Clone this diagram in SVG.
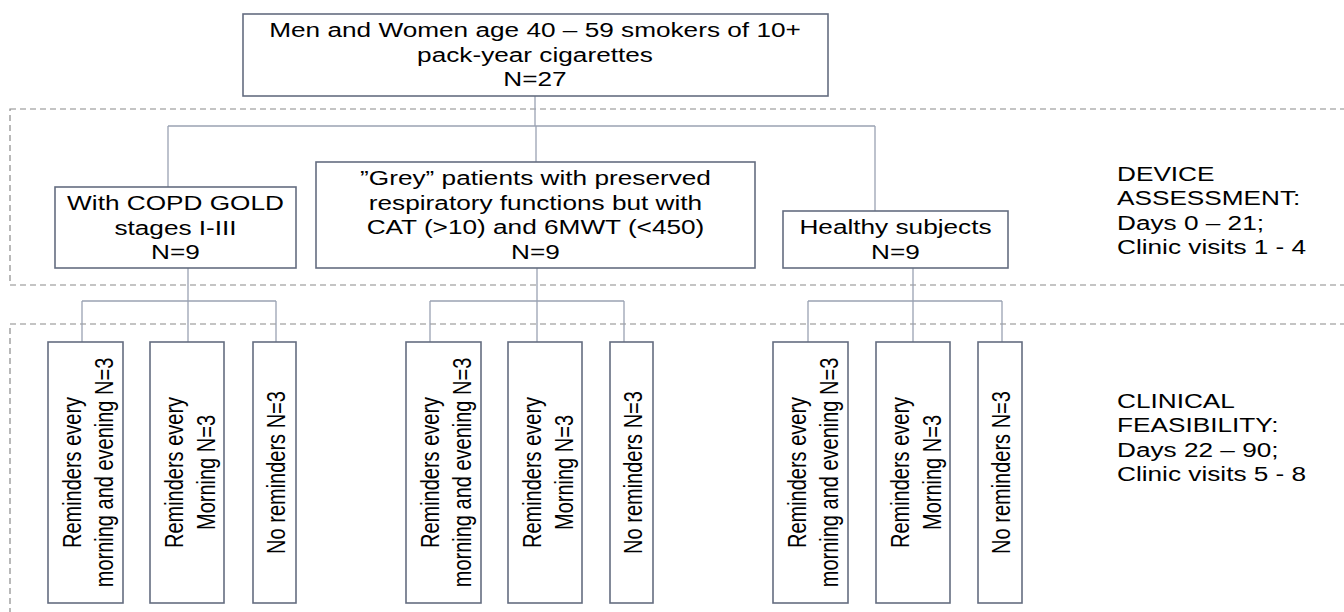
<svg xmlns="http://www.w3.org/2000/svg" width="1344" height="612" viewBox="0 0 1344 612">
<style>
.box{fill:#fff;stroke:#646d80;stroke-width:1.6}
.dash{fill:none;stroke:#8a8a8a;stroke-width:1.2;stroke-dasharray:6 4}
.con{fill:none;stroke:#9aa2b3;stroke-width:1.3}
text{font-family:"Liberation Sans",Arial,sans-serif;font-size:20px;fill:#000}
.c{text-anchor:middle}
</style>
<rect width="1344" height="612" fill="#fff"/>
<g id="regions">
<rect class="dash" x="10" y="109" width="1350" height="176"/>
<rect class="dash" x="10" y="324" width="1350" height="300"/>
</g>
<g id="connectors">
<path class="con" d="M535,96V126M168,126H875M168,126V187M536,126V162M875,126V211"/>
<path class="con" d="M188,268V342M82,301H276M82,301V342M276,301V342"/>
<path class="con" d="M537,268V342M430,301H624M430,301V342M624,301V342"/>
<path class="con" d="M913,268V342M808,301H1002M808,301V342M1002,301V342"/>
</g>
<g id="top">
<rect class="box" x="243" y="14" width="585" height="82"/>
<text class="c" transform="translate(535,37) scale(1.31,1)">Men and Women age 40 – 59 smokers of 10+</text>
<text class="c" transform="translate(535,62) scale(1.31,1)">pack-year cigarettes</text>
<text class="c" transform="translate(535,86) scale(1.31,1)">N=27</text>
</g>
<g id="copd">
<rect class="box" x="55" y="187" width="241" height="81"/>
<text class="c" transform="translate(175.5,210) scale(1.31,1)">With COPD GOLD</text>
<text class="c" transform="translate(175.5,235) scale(1.31,1)">stages I-III</text>
<text class="c" transform="translate(175.5,259) scale(1.31,1)">N=9</text>
</g>
<g id="grey">
<rect class="box" x="316" y="162" width="439" height="106"/>
<text class="c" transform="translate(535.5,185) scale(1.31,1)">”Grey” patients with preserved</text>
<text class="c" transform="translate(535.5,210) scale(1.31,1)">respiratory functions but with</text>
<text class="c" transform="translate(535.5,234) scale(1.31,1)">CAT (&gt;10) and 6MWT (&lt;450)</text>
<text class="c" transform="translate(535.5,259) scale(1.31,1)">N=9</text>
</g>
<g id="healthy">
<rect class="box" x="783" y="211" width="225" height="57"/>
<text class="c" transform="translate(895.5,234) scale(1.31,1)">Healthy subjects</text>
<text class="c" transform="translate(895.5,259) scale(1.31,1)">N=9</text>
</g>
<g id="a1">
<rect class="box" x="48" y="342" width="75" height="261"/>
<text class="c" transform="translate(81,472.5) scale(1.31,1) rotate(-90)"><tspan x="0" y="0">Reminders every</tspan><tspan x="0" dy="24.5">morning and evening N=3</tspan></text>
</g>
<g id="a2">
<rect class="box" x="150" y="342" width="74" height="261"/>
<text class="c" transform="translate(183,472.5) scale(1.31,1) rotate(-90)"><tspan x="0" y="0">Reminders every</tspan><tspan x="0" dy="24.5">Morning N=3</tspan></text>
</g>
<g id="a3">
<rect class="box" x="253" y="342" width="43" height="261"/>
<text class="c" transform="translate(285,472.5) scale(1.31,1) rotate(-90)">No reminders N=3</text>
</g>
<g id="b1">
<rect class="box" x="406" y="342" width="75" height="261"/>
<text class="c" transform="translate(439,472.5) scale(1.31,1) rotate(-90)"><tspan x="0" y="0">Reminders every</tspan><tspan x="0" dy="24.5">morning and evening N=3</tspan></text>
</g>
<g id="b2">
<rect class="box" x="508" y="342" width="74" height="261"/>
<text class="c" transform="translate(541,472.5) scale(1.31,1) rotate(-90)"><tspan x="0" y="0">Reminders every</tspan><tspan x="0" dy="24.5">Morning N=3</tspan></text>
</g>
<g id="b3">
<rect class="box" x="610" y="342" width="43" height="261"/>
<text class="c" transform="translate(642,472.5) scale(1.31,1) rotate(-90)">No reminders N=3</text>
</g>
<g id="c1">
<rect class="box" x="773" y="342" width="75" height="261"/>
<text class="c" transform="translate(806,472.5) scale(1.31,1) rotate(-90)"><tspan x="0" y="0">Reminders every</tspan><tspan x="0" dy="24.5">morning and evening N=3</tspan></text>
</g>
<g id="c2">
<rect class="box" x="876" y="342" width="74" height="261"/>
<text class="c" transform="translate(909,472.5) scale(1.31,1) rotate(-90)"><tspan x="0" y="0">Reminders every</tspan><tspan x="0" dy="24.5">Morning N=3</tspan></text>
</g>
<g id="c3">
<rect class="box" x="978" y="342" width="44" height="261"/>
<text class="c" transform="translate(1010,472.5) scale(1.31,1) rotate(-90)">No reminders N=3</text>
</g>
<g id="device-label">
<text transform="translate(1117,180.5) scale(1.31,1)">DEVICE</text>
<text transform="translate(1117,205) scale(1.31,1)">ASSESSMENT:</text>
<text transform="translate(1117,229.5) scale(1.31,1)">Days 0 – 21;</text>
<text transform="translate(1117,254) scale(1.31,1)">Clinic visits 1 - 4</text>
</g>
<g id="clinical-label">
<text transform="translate(1117,407.5) scale(1.31,1)">CLINICAL</text>
<text transform="translate(1117,432) scale(1.31,1)">FEASIBILITY:</text>
<text transform="translate(1117,456.5) scale(1.31,1)">Days 22 – 90;</text>
<text transform="translate(1117,481) scale(1.31,1)">Clinic visits 5 - 8</text>
</g>
</svg>
